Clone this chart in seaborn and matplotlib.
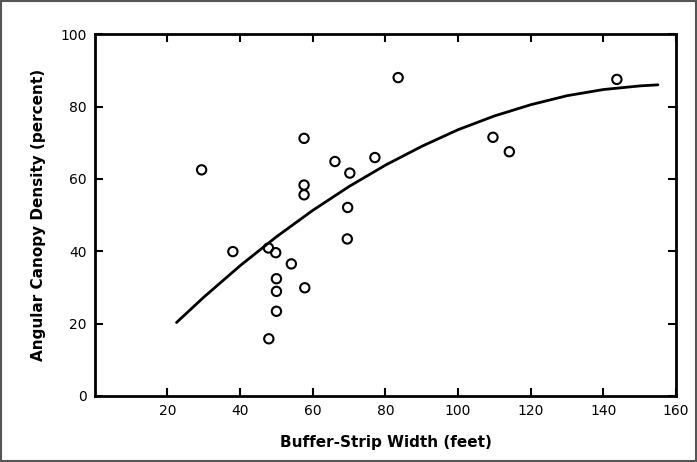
import matplotlib
matplotlib.use("Agg")
import matplotlib.pyplot as plt
import seaborn as sns
import pandas as pd

# buffer-strip width (feet) vs angular canopy density (percent)
width = [29.4, 57.6, 66.1, 70.2, 77.1, 57.6, 57.6, 69.6, 38.0, 47.8, 49.8,
         54.1, 50.0, 50.0, 57.8, 50.0, 47.9, 69.5, 83.5, 143.7, 109.6, 114.1]
density = [62.5, 71.2, 64.8, 61.6, 65.9, 58.3, 55.6, 52.1, 39.9, 40.9, 39.6,
           36.5, 32.4, 28.9, 29.9, 23.4, 15.8, 43.4, 88.0, 87.5, 71.5, 67.5]

# fitted curve
curve_x = [22.5, 30, 40, 50, 60, 70, 80, 90, 100, 110, 120, 130, 140, 150, 155]
curve_y = [20.3, 27.3, 36.0, 44.0, 51.3, 57.9, 63.8, 69.0, 73.6, 77.4, 80.5,
           83.0, 84.7, 85.7, 86.0]

x_ticks = [20, 40, 60, 80, 100, 120, 140, 160]
y_ticks = [0, 20, 40, 60, 80, 100]

sns.set_style("ticks", {'axes.edgecolor': 'black', 'xtick.color': 'black',
                        'ytick.color': 'black', 'text.color': 'black',
                        'axes.labelcolor': 'black'})
plt.rcParams['font.family'] = ['DejaVu Sans']

df = pd.DataFrame({'width': width, 'density': density})
fit = pd.DataFrame({'x': curve_x, 'y': curve_y})

fig = plt.figure(figsize=(6.97, 4.62), dpi=100)
ax = fig.add_axes([0.136, 0.143, 0.834, 0.783])

sns.lineplot(data=fit, x='x', y='y', color='black', linewidth=2, ax=ax)
sns.scatterplot(data=df, x='width', y='density', s=45, facecolor='none',
                edgecolor='black', linewidth=1.5, ax=ax)

ax.set_xlim(0, 160)
ax.set_ylim(0, 100)
ax.set_xticks(x_ticks)
ax.set_yticks(y_ticks)
ax.tick_params(direction='in', top=True, right=True, length=6, width=1.5,
               labelsize=10, pad=6)
for s in ax.spines.values():
    s.set_linewidth(2)
    s.set_visible(True)
ax.set_xlabel('Buffer-Strip Width (feet)', fontsize=11, fontweight='bold', labelpad=12)
ax.set_ylabel('Angular Canopy Density (percent)', fontsize=11, fontweight='bold', labelpad=10)

# outer frame around the figure
fig.patches.append(plt.Rectangle((0.002, 0.003), 0.996, 0.994, transform=fig.transFigure,
                                 fill=False, edgecolor='#555555', linewidth=1.5))

fig.savefig('out.png', dpi=100)
